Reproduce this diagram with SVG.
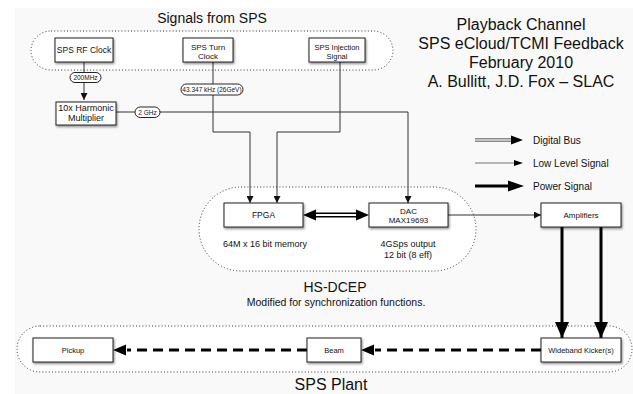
<svg xmlns="http://www.w3.org/2000/svg" width="633" height="394" viewBox="0 0 633 394">
<style>
text{font-family:"Liberation Sans",Arial,sans-serif;fill:#111}
.box{fill:#fff;stroke:#222;stroke-width:1;filter:url(#sh)}
.cont{fill:#fff;stroke:#333;stroke-width:1;stroke-dasharray:1 2.2}
.thin{fill:none;stroke:#333;stroke-width:1}
.pill{fill:#fff;stroke:#222;stroke-width:1}
.power{fill:none;stroke:#000;stroke-width:3}
.dash{fill:none;stroke:#000;stroke-width:3;stroke-dasharray:10 6}
.t16{font-size:16px;text-anchor:middle}
.bt{font-size:8px;text-anchor:middle}
</style>
<defs>
<filter id="sh" x="-20%" y="-30%" width="140%" height="160%">
<feDropShadow dx="1" dy="1.5" stdDeviation="1" flood-color="#000" flood-opacity="0.45"/>
</filter>
<marker id="sa" markerWidth="7" markerHeight="7" refX="7" refY="3.5" orient="auto" markerUnits="userSpaceOnUse">
<path d="M0,0 L7,3.5 L0,7 Z" fill="#111"/>
</marker>
<marker id="ba" markerWidth="16" markerHeight="14" refX="16" refY="7" orient="auto" markerUnits="userSpaceOnUse">
<path d="M0,0 L16,7 L0,14 Z" fill="#000"/>
</marker>
</defs>
<rect x="0" y="0" width="633" height="394" fill="#fff"/>
<rect x="15" y="8" width="618" height="386" fill="#f9f9f9"/>

<g id="containers">
<rect class="cont" x="31" y="31" width="362" height="39" rx="20" ry="19.5"/>
<rect class="cont" x="199" y="187" width="277" height="84" rx="42" ry="42"/>
<rect class="cont" x="17" y="326" width="615" height="46" rx="23" ry="23"/>
</g>

<g id="titles">
<text x="212" y="23" style="font-size:14px;text-anchor:middle">Signals from SPS</text>
<text class="t16" x="521" y="30">Playback Channel</text>
<text class="t16" x="521" y="49">SPS eCloud/TCMI Feedback</text>
<text class="t16" x="521" y="68">February 2010</text>
<text class="t16" x="521" y="87">A. Bullitt, J.D. Fox – SLAC</text>
<text x="335" y="292" style="font-size:14px;text-anchor:middle">HS-DCEP</text>
<text x="336" y="306" style="font-size:10.5px;text-anchor:middle">Modified for synchronization functions.</text>
<text class="t16" x="331" y="390">SPS Plant</text>
</g>

<g id="connectors">
<path class="thin" d="M84,62 V100" marker-end="url(#sa)"/>
<path class="thin" d="M116,112 H408 V203" marker-end="url(#sa)"/>
<path class="thin" d="M213,62 V132 H250 V203" marker-end="url(#sa)"/>
<path class="thin" d="M340,62 V132 H277 V203" marker-end="url(#sa)"/>
<path class="thin" d="M448,215 H541" marker-end="url(#sa)"/>
<path d="M313,215 H359" stroke="#000" stroke-width="5"/>
<path d="M313,215 H359" stroke="#fff" stroke-width="2"/>
<path d="M303,215 L316,209.5 L316,220.5 Z" fill="#000"/>
<path d="M369,215 L356,209.5 L356,220.5 Z" fill="#000"/>
<path class="power" d="M562,227 V338" marker-end="url(#ba)"/>
<path class="power" d="M601,227 V338" marker-end="url(#ba)"/>
<path class="dash" d="M541,350 H375"/>
<path d="M361,350 L374,344.5 L374,355.5 Z" fill="#000"/>
<path class="dash" d="M307,350 H127"/>
<path d="M113,350 L126,344.5 L126,355.5 Z" fill="#000"/>
</g>

<g id="pills">
<rect class="pill" x="70" y="72.5" width="31" height="10" rx="5"/>
<text x="85.5" y="80" style="font-size:6.5px;text-anchor:middle">200MHz</text>
<rect class="pill" x="181" y="84" width="62" height="11" rx="5.5"/>
<text x="212" y="92" style="font-size:6.5px;text-anchor:middle">43.347 kHz (26GeV)</text>
<rect class="pill" x="135" y="107" width="25" height="10.5" rx="5.25"/>
<text x="147.5" y="114.5" style="font-size:6.5px;text-anchor:middle">2 GHz</text>
</g>

<g id="sps-rf-clock">
<rect class="box" x="55" y="38" width="58" height="24"/>
<text class="bt" x="84" y="53" style="font-size:8.5px">SPS RF Clock</text>
</g>
<g id="sps-turn-clock">
<rect class="box" x="183" y="38" width="50" height="24"/>
<text class="bt" x="208" y="49.5">SPS Turn</text>
<text class="bt" x="208" y="59">Clock</text>
</g>
<g id="sps-injection">
<rect class="box" x="309" y="38" width="56" height="24"/>
<text class="bt" x="337" y="49.5" style="font-size:7.5px">SPS Injection</text>
<text class="bt" x="337" y="59" style="font-size:7.5px">Signal</text>
</g>
<g id="harmonic-multiplier">
<rect class="box" x="56" y="102" width="60" height="23"/>
<text class="bt" x="86" y="111" style="font-size:9px">10x Harmonic</text>
<text class="bt" x="86" y="121" style="font-size:9px">Multiplier</text>
</g>
<g id="fpga">
<rect class="box" x="224" y="203" width="79" height="24"/>
<text class="bt" x="263.5" y="218" style="font-size:8.5px">FPGA</text>
<text x="223" y="247" style="font-size:9px">64M x 16 bit memory</text>
</g>
<g id="dac">
<rect class="box" x="369" y="203" width="79" height="24"/>
<text class="bt" x="408.5" y="213.5">DAC</text>
<text class="bt" x="408.5" y="223">MAX19693</text>
<text x="408" y="247" style="font-size:9px;text-anchor:middle">4GSps output</text>
<text x="408" y="257.5" style="font-size:9px;text-anchor:middle">12 bit (8 eff)</text>
</g>
<g id="amplifiers">
<rect class="box" x="541" y="203" width="80" height="24"/>
<text class="bt" x="581" y="218">Amplifiers</text>
</g>
<g id="wideband-kicker">
<rect class="box" x="541" y="338" width="80" height="24"/>
<text class="bt" x="581" y="353" style="font-size:7.5px">Wideband Kicker(s)</text>
</g>
<g id="beam">
<rect class="box" x="307" y="338" width="54" height="24"/>
<text class="bt" x="334" y="353" style="font-size:7.5px">Beam</text>
</g>
<g id="pickup">
<rect class="box" x="33" y="338" width="80" height="24"/>
<text class="bt" x="73" y="353" style="font-size:7.5px">Pickup</text>
</g>

<g id="legend">
<path d="M475,140 H512" stroke="#888" stroke-width="4"/>
<path d="M475,140 H512" stroke="#fff" stroke-width="1.2"/>
<path d="M523,140 L511,135.5 L511,144.5 Z" fill="#000"/>
<text x="533" y="144" style="font-size:10px">Digital Bus</text>
<path d="M475,163 H515" stroke="#777" stroke-width="1.2"/>
<path d="M523,163 L514,160 L514,166 Z" fill="#000"/>
<text x="533" y="167" style="font-size:10px">Low Level Signal</text>
<path d="M475,186 H510" stroke="#000" stroke-width="3"/>
<path d="M524,186 L508,180.5 L508,191.5 Z" fill="#000"/>
<text x="533" y="190" style="font-size:10px">Power Signal</text>
</g>
</svg>
